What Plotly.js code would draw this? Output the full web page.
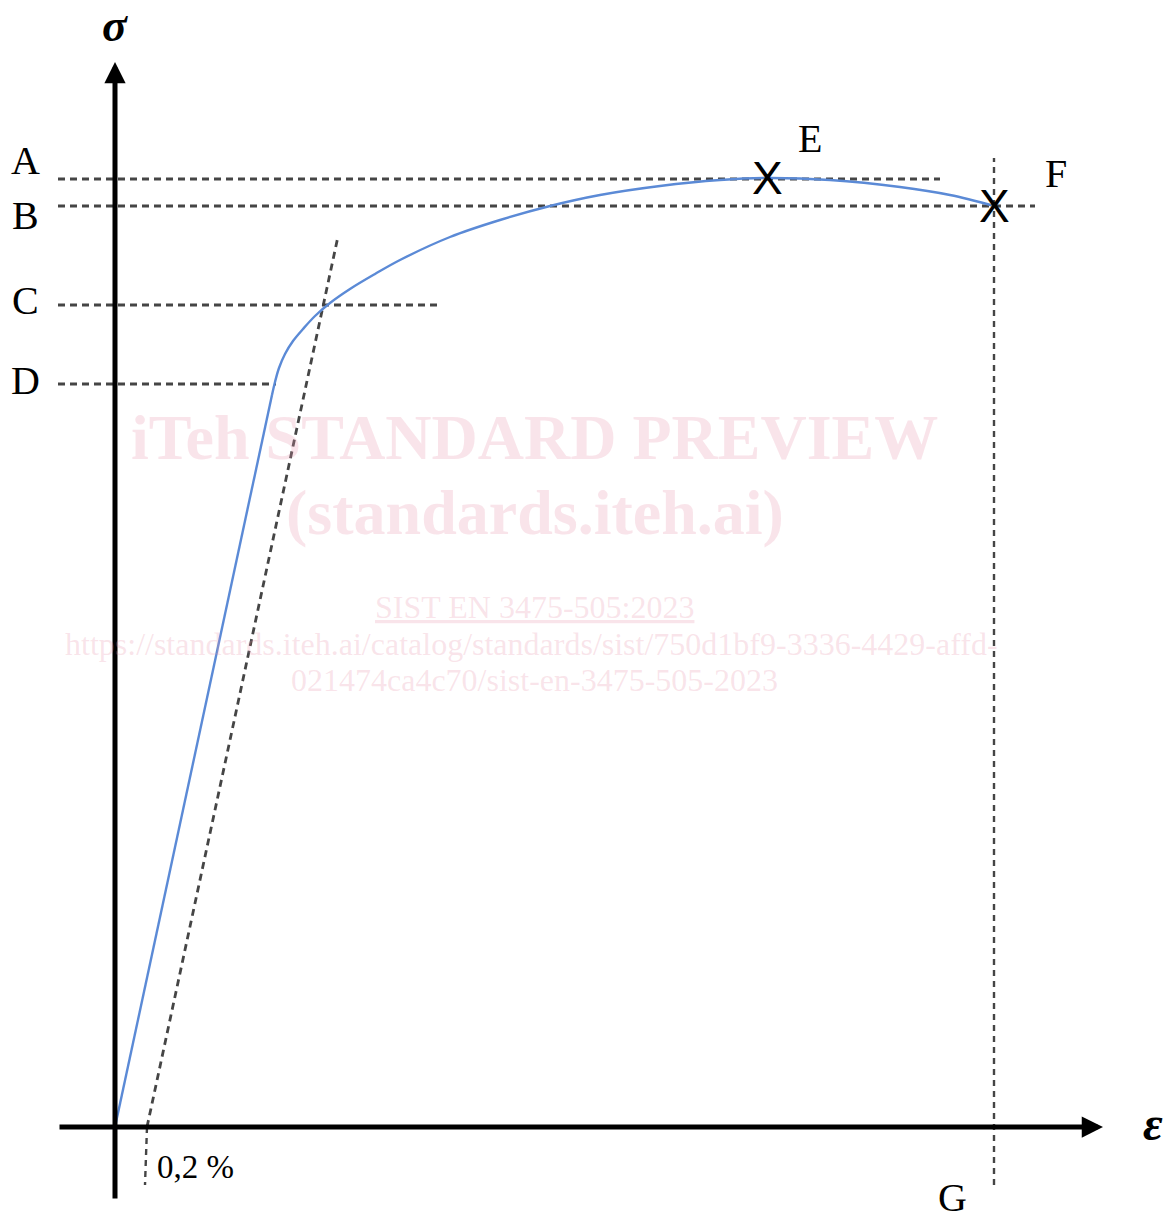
<!DOCTYPE html>
<html>
<head>
<meta charset="utf-8">
<script src="https://cdn.plot.ly/plotly-3.0.1.min.js"></script>
<style>html,body{margin:0;padding:0;background:#fff;}#chart{width:1173px;height:1220px;}</style>
</head>
<body>
<div id="chart"></div>
<script>
// ---- Data (strain / stress in arbitrary diagram units, origin at axis crossing) ----
const elasticStrain = [0, 157];
const elasticStress = [0, 732];

const plasticStrain = [157, 160, 164, 170, 178, 188, 200, 215, 235, 260, 285, 335, 385, 435, 485, 545, 605, 652, 715, 785, 835, 879];
const plasticStress = [732, 745, 759, 773, 786, 798, 811, 824, 838, 853, 867, 890, 907, 921, 932, 941, 947, 949, 947, 940, 932, 921];

const levelLabels = ['A', 'B', 'C', 'D'];
const levelStress = [948, 921, 822, 743];
const levelEndStrain = [825, 920, 325, 161];

const pointLabels = ['E', 'F'];
const pointStrain = [652, 879];
const pointStress = [949, 921];

const offsetStrain = 32;            // 0,2 % offset
const offsetLineTopStress = 887;
const offsetLabel = '0,2 %';
const fractureLabel = 'G';
const stressSymbol = 'σ';
const strainSymbol = 'ε';

const xRange = [-115, 1058];
const yRange = [-93, 1127];

// ---- Styles ----
const blue = '#5b8ad6';
const dashCol = '#454545';
const serif = 'Liberation Serif, Times New Roman, serif';
const pink = 'rgba(232,150,172,0.26)';

const traces = [];

// horizontal guide lines A-D
levelStress.forEach((s, i) => {
  traces.push({
    x: [-57, levelEndStrain[i]], y: [s, s], mode: 'lines', hoverinfo: 'skip',
    line: {color: dashCol, width: 2.8, dash: '7px,5px'}
  });
});
// vertical guide line at fracture strain
const fStrain = pointStrain[1];
traces.push({
  x: [fStrain, fStrain], y: [-58, 969], mode: 'lines', hoverinfo: 'skip',
  line: {color: dashCol, width: 2.4, dash: '6px,5px'}
});
// 0.2% offset line (parallel to elastic slope)
const slope = elasticStress[1] / elasticStrain[1];
traces.push({
  x: [offsetStrain, offsetStrain + offsetLineTopStress / slope], y: [0, offsetLineTopStress],
  mode: 'lines', hoverinfo: 'skip', line: {color: dashCol, width: 2.8, dash: '7px,5px'}
});
traces.push({
  x: [offsetStrain, offsetStrain - 2], y: [0, -58],
  mode: 'lines', hoverinfo: 'skip', line: {color: dashCol, width: 2.4, dash: '6px,5px'}
});

// curve
traces.push({x: elasticStrain, y: elasticStress, mode: 'lines', line: {color: blue, width: 2.4}, hoverinfo: 'skip'});
traces.push({x: plasticStrain, y: plasticStress, mode: 'lines', line: {color: blue, width: 2.4, shape: 'spline', smoothing: 1}, hoverinfo: 'skip'});

const ann = [];
// X markers at E and F
pointStrain.forEach((s, i) => {
  ann.push({x: s, y: pointStress[i], xref: 'x', yref: 'y', text: 'X', showarrow: false, yshift: 0,
    font: {family: 'Liberation Sans, Arial, sans-serif', size: 46, color: '#000'}});
});
// axes arrows
ann.push({x: 988, y: 0, ax: -57, ay: 0, xref: 'x', yref: 'y', axref: 'x', ayref: 'y', text: '', showarrow: true,
  arrowhead: 2, arrowsize: 0.85, arrowwidth: 5, arrowcolor: '#000', standoff: 0});
ann.push({x: 0, y: 1065, ax: 0, ay: -73, xref: 'x', yref: 'y', axref: 'x', ayref: 'y', text: '', showarrow: true,
  arrowhead: 2, arrowsize: 0.85, arrowwidth: 5, arrowcolor: '#000', standoff: 0});

// level labels
const levelShift = [19, -9, 5, 4];
levelLabels.forEach((l, i) => {
  ann.push({x: -90, y: levelStress[i], xref: 'x', yref: 'y', text: l, showarrow: false, yshift: levelShift[i],
    font: {family: serif, size: 40, color: '#000'}});
});
// point labels
const pShift = [[43, 40], [62, 33]];
pointLabels.forEach((l, i) => {
  ann.push({x: pointStrain[i], y: pointStress[i], xref: 'x', yref: 'y', text: l, showarrow: false,
    xshift: pShift[i][0], yshift: pShift[i][1], font: {family: serif, size: 40, color: '#000'}});
});
ann.push({x: fStrain, y: 0, xref: 'x', yref: 'paper', yanchor: 'bottom', text: fractureLabel, showarrow: false, xshift: -42, yshift: -2,
  font: {family: serif, size: 40, color: '#000'}});
ann.push({x: offsetStrain, y: 0, xref: 'x', yref: 'y', text: offsetLabel, showarrow: false, xanchor: 'left', xshift: 8, yshift: -40,
  font: {family: serif, size: 33, color: '#000'}});
ann.push({x: 0, y: 1, xref: 'x', yref: 'paper', yanchor: 'top', text: '<b><i>' + stressSymbol + '</i></b>', showarrow: false, yshift: 2,
  font: {family: serif, size: 46, color: '#000'}});
ann.push({x: 988, y: 0, xref: 'x', yref: 'y', text: '<b><i>' + strainSymbol + '</i></b>', showarrow: false, xshift: 50, yshift: 4,
  font: {family: serif, size: 48, color: '#000'}});

// watermark
ann.push({x: 0.456, y: 1 - 437 / 1220, xref: 'paper', yref: 'paper', text: '<b>iTeh STANDARD PREVIEW</b>', showarrow: false,
  font: {family: serif, size: 64, color: pink}});
ann.push({x: 0.456, y: 1 - 512 / 1220, xref: 'paper', yref: 'paper', text: '<b>(standards.iteh.ai)</b>', showarrow: false,
  font: {family: serif, size: 64, color: pink}});
ann.push({x: 0.456, y: 1 - 607 / 1220, xref: 'paper', yref: 'paper', text: '<u>SIST EN 3475-505:2023</u>', showarrow: false,
  font: {family: serif, size: 32, color: pink}});
ann.push({x: 0.453, y: 1 - 644 / 1220, xref: 'paper', yref: 'paper', text: 'https://standards.iteh.ai/catalog/standards/sist/750d1bf9-3336-4429-affd-', showarrow: false,
  font: {family: serif, size: 32, color: pink}});
ann.push({x: 0.456, y: 1 - 680 / 1220, xref: 'paper', yref: 'paper', text: '021474ca4c70/sist-en-3475-505-2023', showarrow: false,
  font: {family: serif, size: 32, color: pink}});

const layout = {
  width: 1173, height: 1220,
  margin: {l: 0, r: 0, t: 0, b: 0},
  paper_bgcolor: '#fff', plot_bgcolor: '#fff',
  showlegend: false,
  xaxis: {range: xRange, visible: false, fixedrange: true},
  yaxis: {range: yRange, visible: false, fixedrange: true},
  annotations: ann
};

Plotly.newPlot('chart', traces, layout, {staticPlot: true, displayModeBar: false});
</script>
</body>
</html>
